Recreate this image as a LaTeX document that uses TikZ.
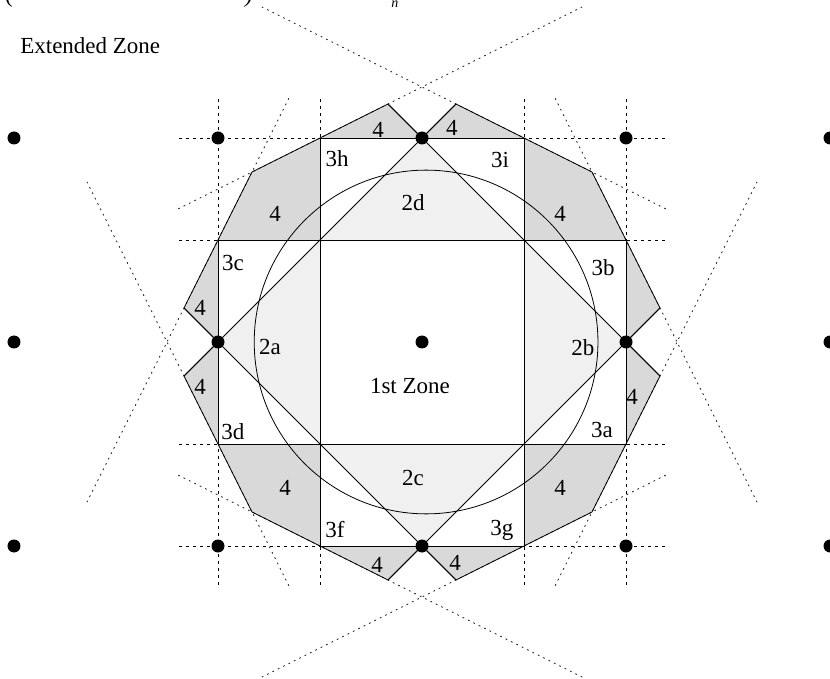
\documentclass[tikz,border=0pt]{standalone}
\usepackage{fontspec}
\setmainfont{Liberation Serif}
\definecolor{zonefour}{HTML}{D9D9D9}
\definecolor{zonetwo}{HTML}{F0F0F0}
\definecolor{braggcol}{HTML}{1A1A1A}
\begin{document}
\begin{tikzpicture}[x=102pt,y=102pt,font=\fontsize{23}{27}\selectfont,
  dot/.style={circle,fill=black,inner sep=0pt,minimum size=13pt},
  gridline/.style={dash pattern=on 3pt off 4pt,line width=0.7pt},
  bragg/.style={dash pattern=on 1.8pt off 4.2pt,line width=0.75pt,color=braggcol},
  solidline/.style={line width=0.8pt},
  lab/.style={inner sep=0pt},
  zfour/.style={fill=zonefour},
  ztwo/.style={fill=zonetwo}]
\useasboundingbox (-4.1373,-3.3039) rectangle (4.0,3.3529);
% grid coordinates
\foreach \i/\n in {-2/m2,-1/m1,0/z,1/p1,2/p2}{
  \foreach \j/\m in {-2/m2,-1/m1,0/z,1/p1,2/p2}{
    \coordinate (g\n\m) at (\i,\j);
  }
}
% apex points
\coordinate (aN1) at (-0.3333,2.3333);
\coordinate (aN2) at (0.3333,2.3333);
\coordinate (aE1) at (2.3333,0.3333);
\coordinate (aE2) at (2.3333,-0.3333);
\coordinate (aS1) at (0.3333,-2.3333);
\coordinate (aS2) at (-0.3333,-2.3333);
\coordinate (aW1) at (-2.3333,-0.3333);
\coordinate (aW2) at (-2.3333,0.3333);
\coordinate (qNE) at (1.6667,1.6667);
\coordinate (qSE) at (1.6667,-1.6667);
\coordinate (qSW) at (-1.6667,-1.6667);
\coordinate (qNW) at (-1.6667,1.6667);
% fills zone 4
\fill[zfour] (gm1p2) -- (aN1) -- (gzp2) -- cycle;
\fill[zfour] (gzp2) -- (aN2) -- (gp1p2) -- cycle;
\fill[zfour] (gp1p2) -- (qNE) -- (gp2p1) -- (gp1p1) -- cycle;
\fill[zfour] (gp2p1) -- (aE1) -- (gp2z) -- cycle;
\fill[zfour] (gp2z) -- (aE2) -- (gp2m1) -- cycle;
\fill[zfour] (gp2m1) -- (qSE) -- (gp1m2) -- (gp1m1) -- cycle;
\fill[zfour] (gp1m2) -- (aS1) -- (gzm2) -- cycle;
\fill[zfour] (gzm2) -- (aS2) -- (gm1m2) -- cycle;
\fill[zfour] (gm1m2) -- (qSW) -- (gm2m1) -- (gm1m1) -- cycle;
\fill[zfour] (gm2m1) -- (aW1) -- (gm2z) -- cycle;
\fill[zfour] (gm2z) -- (aW2) -- (gm2p1) -- cycle;
\fill[zfour] (gm2p1) -- (qNW) -- (gm1p2) -- (gm1p1) -- cycle;
% fills zone 2
\fill[ztwo] (gm1p1) -- (gzp2) -- (gp1p1) -- cycle;
\fill[ztwo] (gp1p1) -- (gp2z) -- (gp1m1) -- cycle;
\fill[ztwo] (gp1m1) -- (gzm2) -- (gm1m1) -- cycle;
\fill[ztwo] (gm1m1) -- (gm2z) -- (gm1p1) -- cycle;
% dashed grid
\foreach \v in {-2,-1,1,2}{
  \draw[gridline] (\v,-2.38) -- (\v,2.38);
  \draw[gridline] (-2.38,\v) -- (2.38,\v);
}
% Bragg lines (dotted)
\coordinate (b1s) at (-2.39,1.305);  \coordinate (b1e) at (1.57,3.285);
\coordinate (b2s) at (2.39,1.305);   \coordinate (b2e) at (-1.57,3.285);
\coordinate (b3s) at (2.39,-1.305);  \coordinate (b3e) at (-1.57,-3.285);
\coordinate (b4s) at (-2.39,-1.305); \coordinate (b4e) at (1.57,-3.285);
\coordinate (b5s) at (1.305,2.39);   \coordinate (b5e) at (3.285,-1.57);
\coordinate (b6s) at (-1.305,2.39);  \coordinate (b6e) at (-3.285,-1.57);
\coordinate (b7s) at (1.305,-2.39);  \coordinate (b7e) at (3.285,1.57);
\coordinate (b8s) at (-1.305,-2.39); \coordinate (b8e) at (-3.285,1.57);
\foreach \k in {1,...,8}{\draw[bragg] (b\k s) -- (b\k e);}
% solid lines
\draw[solidline] (gm1m2) -- (gm1p2);
\draw[solidline] (gp1m2) -- (gp1p2);
\draw[solidline] (gm2m1) -- (gp2m1);
\draw[solidline] (gm2p1) -- (gp2p1);
\draw[solidline] (gm2m1) -- (gm2p1);
\draw[solidline] (gp2m1) -- (gp2p1);
\draw[solidline] (gm1p2) -- (gp1p2);
\draw[solidline] (gm1m2) -- (gp1m2);
\draw[solidline] (aN1) -- (aE2);
\draw[solidline] (aN2) -- (aW1);
\draw[solidline] (aW2) -- (aS1);
\draw[solidline] (aE1) -- (aS2);
\draw[solidline,line join=miter] (gzp2) -- (aN2) -- (gp1p2) -- (qNE) -- (gp2p1) -- (aE1) -- (gp2z) -- (aE2) -- (gp2m1) -- (qSE) -- (gp1m2) -- (aS1) -- (gzm2) -- (aS2) -- (gm1m2) -- (qSW) -- (gm2m1) -- (aW1) -- (gm2z) -- (aW2) -- (gm2p1) -- (qNW) -- (gm1p2) -- (aN1) -- cycle;
\coordinate (cc) at (0.04,0);
\draw[solidline] (cc) circle (1.685);
% lattice points
\node[dot] (d00) at (0,0) {};
\node[dot] (dN) at (0,2) {};
\node[dot] (dS) at (0,-2) {};
\node[dot] (dE) at (2,0) {};
\node[dot] (dW) at (-2,0) {};
\node[dot] (dNE) at (2,2) {};
\node[dot] (dNW) at (-2,2) {};
\node[dot] (dSE) at (2,-2) {};
\node[dot] (dSW) at (-2,-2) {};
\node[dot] (dFW1) at (-4,2) {};
\node[dot] (dFW2) at (-4,0) {};
\node[dot] (dFW3) at (-4,-2) {};
\node[dot] (dFE1) at (4,2) {};
\node[dot] (dFE2) at (4,0) {};
\node[dot] (dFE3) at (4,-2) {};
% labels
\node[lab,anchor=west] (ext) at (-3.94,2.91) {Extended Zone};
\node[lab] (first) at (-0.118,-0.431) {1st Zone};
\node[lab] (l2a) at (-1.49,-0.049) {2a};
\node[lab] (l2b) at (1.578,-0.059) {2b};
\node[lab] (l2c) at (-0.088,-1.333) {2c};
\node[lab] (l2d) at (-0.088,1.363) {2d};
\node[lab] (l3h) at (-0.833,1.794) {3h};
\node[lab] (l3i) at (0.765,1.784) {3i};
\node[lab] (l3c) at (-1.853,0.775) {3c};
\node[lab] (l3d) at (-1.853,-0.882) {3d};
\node[lab] (l3b) at (1.775,0.725) {3b};
\node[lab] (l3a) at (1.765,-0.863) {3a};
\node[lab] (l3f) at (-0.853,-1.843) {3f};
\node[lab] (l3g) at (0.784,-1.843) {3g};
\node[lab] (f1) at (-0.431,2.078) {4};
\node[lab] (f2) at (0.294,2.098) {4};
\node[lab] (f3) at (-1.441,1.255) {4};
\node[lab] (f4) at (1.353,1.255) {4};
\node[lab] (f5) at (-2.176,0.333) {4};
\node[lab] (f6) at (-2.176,-0.441) {4};
\node[lab] (f7) at (2.059,-0.539) {4};
\node[lab] (f8) at (-1.343,-1.431) {4};
\node[lab] (f9) at (1.353,-1.431) {4};
\node[lab] (f10) at (-0.441,-2.186) {4};
\node[lab] (f11) at (0.324,-2.167) {4};
% cut-off caption remnants at the top edge
\node[lab,anchor=base west] (capa) at (-4.088,3.333) {(};
\node[lab,anchor=base] (capb) at (-1.696,3.333) {\itshape )};
\node[lab,anchor=base] (capc) at (-0.265,3.275) {\fontsize{14}{16}\selectfont\itshape n};
\end{tikzpicture}
\end{document}
